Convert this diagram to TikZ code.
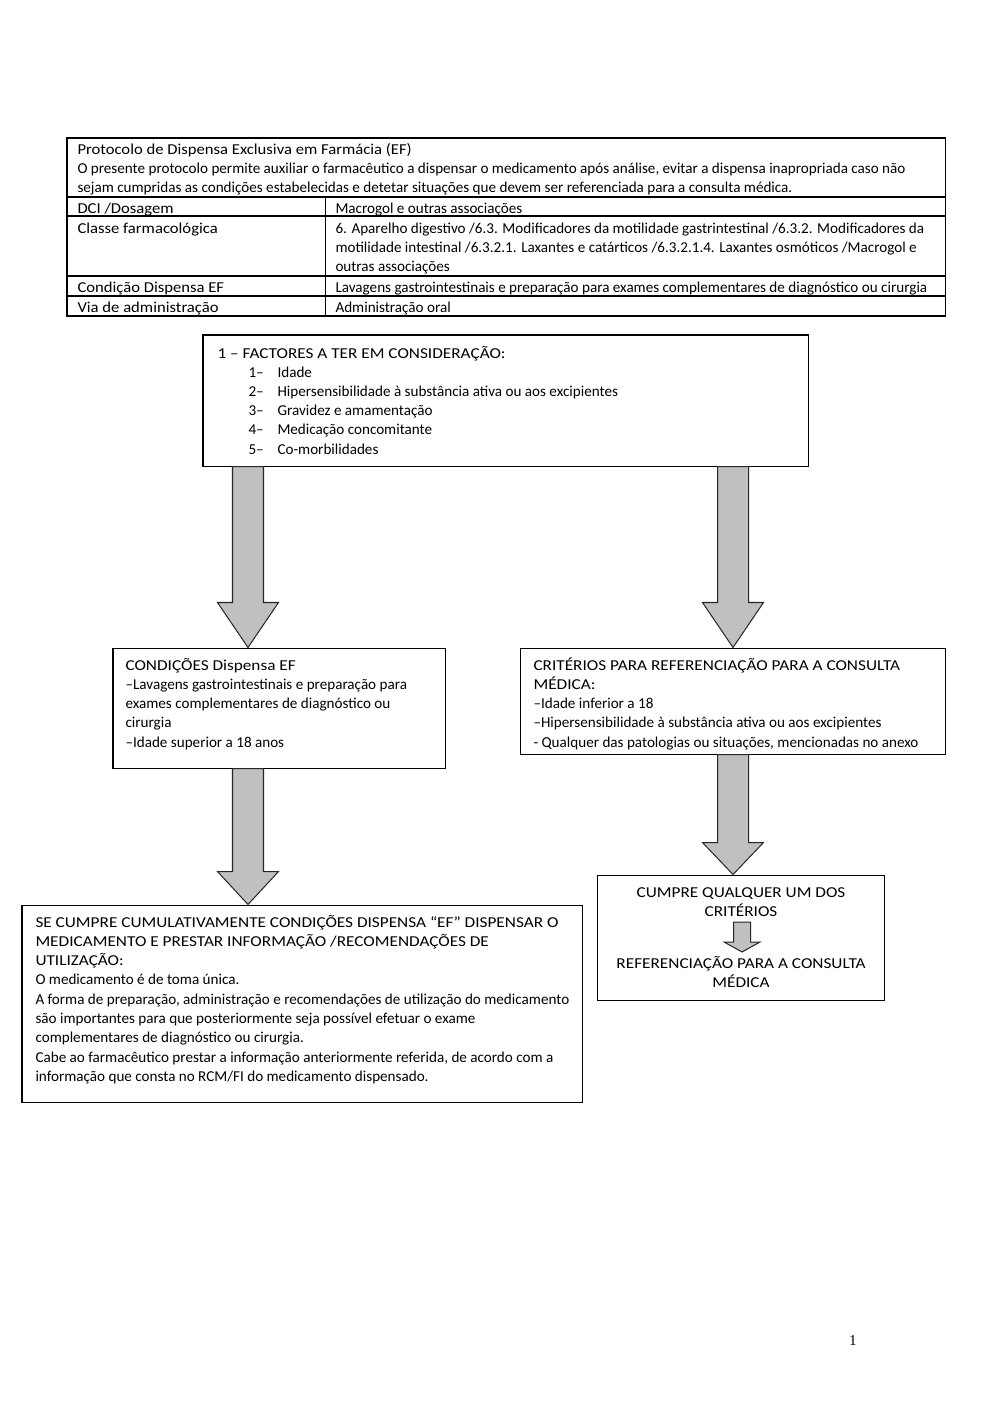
\documentclass[tikz,border=0pt]{standalone}
\usepackage{fontspec}
\setmainfont{Carlito}
\newfontfamily\pagenumfont{Liberation Serif}
\usetikzlibrary{calc,fit}

\definecolor{arrowgray}{HTML}{C0C0C0}
\newcommand{\mainsize}{\fontsize{9}{11.5}\selectfont}
\newcommand{\wide}[1]{{\addfontfeature{FakeStretch=1.10}#1}}
\newcommand{\caps}[1]{{\addfontfeature{FakeStretch=1.14}#1}}
\newcommand{\lines}[1]{\begin{tabular}[t]{@{}l@{}}#1\end{tabular}}
\newcommand{\clines}[1]{\begin{tabular}[t]{@{}c@{}}#1\end{tabular}}
% block arrow: start, tip, shaft half width, head half width, head length
\newcommand{\blockarrow}[5]{%
  \draw[arrowbody] ($(#1)+(-#3,0)$) -- ($(#2)+(-#3,-#5)$) -- ($(#2)+(-#4,-#5)$) -- (#2)
    -- ($(#2)+(#4,-#5)$) -- ($(#2)+(#3,-#5)$) -- ($(#1)+(#3,0)$) -- cycle;}

\begin{document}
\begin{tikzpicture}[x=0.595pt, y=-0.595pt, line width=0.6pt,
    box/.style={draw, inner sep=0pt},
    txt/.style={anchor=base west, inner sep=0pt, font=\mainsize},
    ctxt/.style={anchor=base, inner sep=0pt, font=\mainsize},
    arrowbody/.style={draw=black!85, fill=arrowgray, line width=0.6pt}]
  \useasboundingbox (0,0) rectangle (1000,1415);

  % header table
  \draw (67,138) rectangle (945,316);
  \foreach \y in {197,216,276,296}
    \draw (67,\y) -- (945,\y);
  \draw (325,197) -- (325,316);
  \node[txt] (intro) at (77,154) {\lines{\wide{Protocolo de Dispensa Exclusiva em Farmácia (EF)}\\
    O presente protocolo permite auxiliar o farmacêutico a dispensar o medicamento após análise, evitar a dispensa inapropriada caso não\\
    sejam cumpridas as condições estabelecidas e detetar situações que devem ser referenciada para a consulta médica.}};
  \node[txt] (dciKey) at (77,213) {\wide{DCI /Dosagem}};
  \node[txt] (dciVal) at (335,213) {Macrogol e outras associações};
  \node[txt] (classeKey) at (77,233) {\wide{Classe farmacológica}};
  \node[txt] (classeVal) at (335,233) {\lines{6. Aparelho digestivo /6.3. Modificadores da motilidade gastrintestinal /6.3.2. Modificadores da\\
    motilidade intestinal /6.3.2.1. Laxantes e catárticos /6.3.2.1.4. Laxantes osmóticos /Macrogol e\\
    outras associações}};
  \node[txt] (condKey) at (77,292) {\wide{Condição Dispensa EF}};
  \node[txt] (condVal) at (335,292) {Lavagens gastrointestinais e preparação para exames complementares de diagnóstico ou cirurgia};
  \node[txt] (viaKey) at (77,312) {\wide{Via de administração}};
  \node[txt] (viaVal) at (335,312) {Administração oral};

  % flow boxes
  \node[box, fit={(203,335) (808,466)}] (factores) {};
  \node[box, fit={(113,648) (445,768)}] (condicoes) {};
  \node[box, fit={(520,648) (945,754)}] (criterios) {};
  \node[box, fit={(22,905) (582,1102)}] (dispensar) {};
  \node[box, fit={(597,875) (884,1000)}] (referenciar) {};

  \node[txt] (factoresTitle) at (217,358) {\caps{1 – FACTORES A TER EM CONSIDERAÇÃO:}};
  \node[txt] (factoresNum) at (248,377) {\lines{1–\\2–\\3–\\4–\\5–}};
  \node[txt] (factoresList) at (277,377) {\lines{Idade\\
    Hipersensibilidade à substância ativa ou aos excipientes\\
    Gravidez e amamentação\\
    Medicação concomitante\\
    Co-morbilidades}};

  \node[txt] (condicoesText) at (125,670) {\lines{\caps{CONDIÇÕES Dispensa EF}\\
    –Lavagens gastrointestinais e preparação para\\
    exames complementares de diagnóstico ou\\
    cirurgia\\
    –Idade superior a 18 anos}};

  \begin{scope}
    \clip (520,648) rectangle (945,749);
    \node[txt] (criteriosText) at (533,670) {\lines{\caps{CRITÉRIOS PARA REFERENCIAÇÃO PARA A CONSULTA}\\
      \caps{MÉDICA:}\\
      –Idade inferior a 18\\
      –Hipersensibilidade à substância ativa ou aos excipientes\\
      - Qualquer das patologias ou situações, mencionadas no anexo}};
  \end{scope}

  \node[txt] (dispensarText) at (35,927) {\lines{\caps{SE CUMPRE CUMULATIVAMENTE CONDIÇÕES DISPENSA “EF” DISPENSAR O}\\
    \caps{MEDICAMENTO E PRESTAR INFORMAÇÃO /RECOMENDAÇÕES DE}\\
    \caps{UTILIZAÇÃO:}\\
    O medicamento é de toma única.\\
    A forma de preparação, administração e recomendações de utilização do medicamento\\
    são importantes para que posteriormente seja possível efetuar o exame\\
    complementares de diagnóstico ou cirurgia.\\
    Cabe ao farmacêutico prestar a informação anteriormente referida, de acordo com a\\
    informação que consta no RCM/FI do medicamento dispensado.}};

  \node[ctxt] (cumpre) at (741,897) {\clines{\caps{CUMPRE QUALQUER UM DOS}\\\caps{CRITÉRIOS}}};
  \node[ctxt] (consulta) at (741,968) {\clines{\caps{REFERENCIAÇÃO PARA A CONSULTA}\\\caps{MÉDICA}}};

  % arrows
  \coordinate (lcol) at (248,0);
  \coordinate (rcol) at (733,0);
  \coordinate (smallTop) at (742,922);
  \coordinate (smallTip) at (742,952);
  \blockarrow{lcol |- factores.south}{lcol |- condicoes.north}{15.5}{30.5}{45}
  \blockarrow{rcol |- factores.south}{rcol |- criterios.north}{15.5}{30.5}{45}
  \blockarrow{lcol |- condicoes.south}{lcol |- dispensar.north}{15.5}{30.5}{33}
  \blockarrow{rcol |- criterios.south}{rcol |- referenciar.north}{15.5}{30.5}{32}
  \blockarrow{smallTop}{smallTip}{8.5}{18}{10}

  \node[font=\pagenumfont\fontsize{9}{10}\selectfont, anchor=base] (pagenum) at (853,1345) {1};
\end{tikzpicture}
\end{document}
